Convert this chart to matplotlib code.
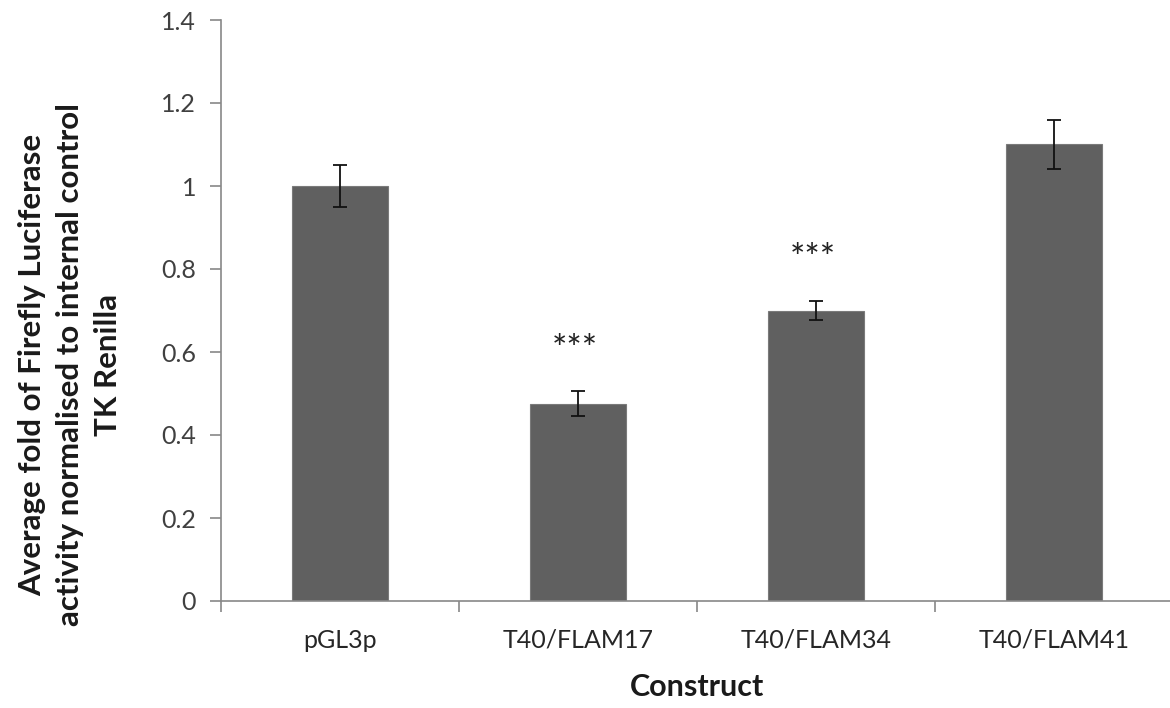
import matplotlib
matplotlib.use("Agg")
import matplotlib.pyplot as plt
import numpy as np

categories = ["pGL3p", "T40/FLAM17", "T40/FLAM34", "T40/FLAM41"]
values = [1.00, 0.475, 0.70, 1.10]
errors = [0.05, 0.03, 0.024, 0.06]
significance = ["", "***", "***", ""]
yticks = [0, 0.2, 0.4, 0.6, 0.8, 1.0, 1.2, 1.4]
ytick_labels = ["0", "0.2", "0.4", "0.6", "0.8", "1", "1.2", "1.4"]

plt.rcParams['font.family'] = ['Lato', 'DejaVu Sans']

W, H = 1170, 708
fig = plt.figure(figsize=(W / 100, H / 100), dpi=100)
left, right, bottom, top = 221, 1173, 601, 20
ax = fig.add_axes([left / W, 1 - bottom / H, (right - left) / W, (bottom - top) / H])

x = np.arange(len(categories))
ax.bar(x, values, width=0.4, color="#606060", edgecolor="#7a7a7a", linewidth=0.8, zorder=2)
ax.errorbar(x, values, yerr=errors, fmt="none", ecolor="#111111", elinewidth=1.3,
            capsize=4.7, capthick=1.3, zorder=3)

for xi, v, e, s in zip(x, values, errors, significance):
    if s:
        ax.text(xi - 0.015, v + e + 0.098, s, ha="center", va="center", fontsize=26, color="#222222")

ax.set_xlim(-0.5, len(categories) - 0.5)
ax.set_ylim(0, 1.4)
ax.set_yticks(yticks)
ax.set_yticklabels(ytick_labels, fontsize=18, color="#404040")
ax.set_xticks(x)
ax.set_xticklabels(categories, fontsize=18, color="#262626")
ax.set_xticks(np.arange(len(categories) + 1) - 0.5, minor=True)
ax.tick_params(axis="x", which="major", length=0, pad=20)
ax.tick_params(axis="x", which="minor", length=8, color="#888888", width=1.2, direction="out")
ax.tick_params(axis="y", which="major", length=8, color="#888888", width=1.2, direction="out", pad=10)

for s in ["top", "right"]:
    ax.spines[s].set_visible(False)
for s in ["left", "bottom"]:
    ax.spines[s].set_color("#888888")
    ax.spines[s].set_linewidth(1.2)

fig.text(70 / W, 1 - 365 / H,
         "Average fold of Firefly Luciferase\nactivity normalised to internal control\nTK Renilla",
         rotation=90, ha="center", va="center", ma="center",
         fontsize=22.5, fontweight="bold", color="#1a1a1a", linespacing=1.42)
fig.text(697 / W, 1 - 687 / H, "Construct", ha="center", va="center",
         fontsize=22, fontweight="bold", color="#1a1a1a")

fig.savefig("out.png", dpi=100, facecolor="white")
